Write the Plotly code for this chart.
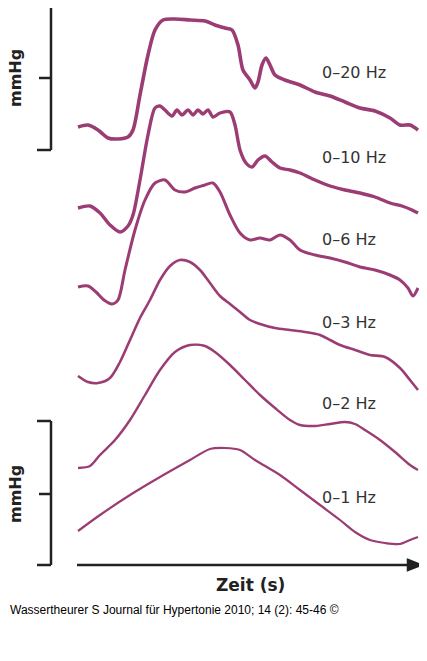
import plotly.graph_objects as go

labels = ["0–20 Hz", "0–10 Hz", "0–6 Hz", "0–3 Hz", "0–2 Hz", "0–1 Hz"]
label_y = [72, 157, 239, 322, 403, 497]

x20 = [78,88,98,108,118,128,133,140,148,155,163,175,190,205,215,225,232,238,243,250,255,258,262,266,270,275,285,300,315,330,345,360,375,390,400,410,418]
y20 = [127,125,130,138,139,137,130,95,55,30,20,19,20,21,25,28,30,45,70,80,88,82,65,58,65,75,80,85,92,96,102,108,111,118,125,125,130]
x10 = [78,90,100,110,120,128,133,140,148,155,160,165,172,177,182,188,193,198,203,208,213,220,230,235,240,246,252,258,265,272,280,290,300,315,330,345,360,375,390,402,412,418]
y10 = [208,206,213,225,232,226,215,180,135,108,106,110,116,110,115,110,115,110,114,110,117,113,112,125,150,163,167,160,156,162,168,170,173,180,186,190,193,197,203,206,210,213]
x6 = [78,88,96,104,112,118,125,135,145,155,165,175,185,195,205,213,220,230,240,250,260,270,280,290,300,315,330,345,360,375,390,400,408,413,418]
y6 = [287,286,292,300,304,300,270,230,200,183,180,190,192,188,185,183,192,215,233,240,238,240,235,240,250,255,258,262,267,270,275,280,288,296,288]
x3 = [78,88,98,110,120,130,140,150,160,170,180,190,200,210,220,230,240,250,260,275,290,305,320,330,340,355,370,385,400,410,418]
y3 = [376,382,383,378,362,340,318,300,280,266,260,262,270,283,296,304,312,320,324,328,330,332,335,340,345,350,355,357,368,380,390]
x2 = [78,90,100,115,130,145,160,175,190,205,215,230,245,260,275,290,300,315,330,345,355,365,380,395,410,418]
y2 = [468,466,455,440,420,395,370,352,345,346,352,365,380,395,408,420,425,426,424,422,424,430,440,452,465,470]
x1 = [78,100,130,160,190,210,225,240,255,280,300,320,340,355,370,385,400,410,418]
y1 = [531,515,495,477,460,449,448,450,460,475,490,505,520,532,540,543,544,540,537]

series = [(x20, y20, 3.6), (x10, y10, 3.4), (x6, y6, 3.0), (x3, y3, 2.6), (x2, y2, 2.4), (x1, y1, 2.2)]
col = "#9b3c74"

fig = go.Figure()
for xs, ys, w in series:
    fig.add_trace(go.Scatter(x=xs, y=ys, mode="lines", line=dict(color=col, width=w, shape="spline", smoothing=0.8),
                             hoverinfo="skip", showlegend=False, cliponaxis=False))

for t, yy in zip(labels, label_y):
    fig.add_annotation(x=320, y=yy, text=t, showarrow=False, xanchor="left", yanchor="middle",
                       font=dict(family="DejaVu Sans", size=16, color="#333"))

k = "#222"
shapes = []
for top, mid, bot in [(5, 78, 150), (421, 494, 565)]:
    shapes += [
        dict(type="line", x0=51, x1=51, y0=top, y1=bot),
        dict(type="line", x0=37, x1=51, y0=top, y1=top),
        dict(type="line", x0=37, x1=51, y0=bot, y1=bot),
        dict(type="line", x0=39, x1=51, y0=mid, y1=mid),
    ]
shapes.append(dict(type="line", x0=77, x1=410, y0=565, y1=565))
shapes.append(dict(type="path", path="M 408 560 L 421 565 L 408 570 Z", fillcolor=k))
for s in shapes:
    s.update(xref="x", yref="y", line=dict(color=k, width=2.5))
fig.update_layout(shapes=shapes)

for yy in [78, 494]:
    fig.add_annotation(x=15, y=yy, text="<b>mmHg</b>", textangle=-90, showarrow=False,
                       font=dict(family="DejaVu Sans", size=16, color="#222"))
fig.add_annotation(x=250, y=585, text="<b>Zeit (s)</b>", showarrow=False,
                   font=dict(family="DejaVu Sans", size=17, color="#222"))
fig.add_annotation(x=8, y=610, text="Wassertheurer S Journal für Hypertonie 2010; 14 (2): 45-46 ©", showarrow=False,
                   xanchor="left", font=dict(family="Liberation Sans", size=12, color="#000"))

# page has an 8px body margin; map the visible area to reference pixel coords
fig.update_xaxes(range=[8, 427], visible=False, fixedrange=True)
fig.update_yaxes(range=[661, 8], visible=False, fixedrange=True)
fig.update_layout(width=419, height=653, margin=dict(l=0, r=0, t=0, b=0),
                  paper_bgcolor="white", plot_bgcolor="white")
fig.write_html("out.html", config={"displayModeBar": False})
